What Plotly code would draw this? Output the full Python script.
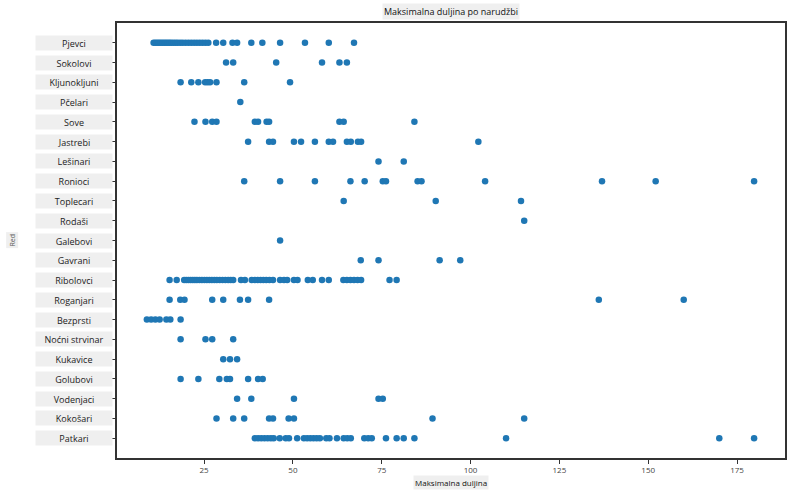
import plotly.graph_objects as go

# order names, top to bottom
redovi = ['Pjevci', 'Sokolovi', 'Kljunokljuni', 'Pčelari', 'Sove', 'Jastrebi',
          'Lešinari', 'Ronioci', 'Toplecari', 'Rodaši', 'Galebovi', 'Gavrani',
          'Ribolovci', 'Roganjari', 'Bezprsti', 'Noćni strvinar', 'Kukavice',
          'Golubovi', 'Vodenjaci', 'Kokošari', 'Patkari']

# max lengths, one list per order
pjevci = [10.8, 11.3, 11.8, 12.3, 12.8, 13.3, 13.8, 14.3, 14.8, 15.3, 15.8, 16.4, 17.0,
          17.6, 18.3, 19.0, 19.8, 20.6, 21.4, 22.2, 23.0, 23.8, 24.6, 25.4, 26.2,
          28.4, 30.4, 33.0, 34.3, 38.3, 41.4, 46.4, 53.4, 60.1, 67.2]
sokolovi = [31.2, 33.2, 45.3, 58.2, 63.1, 65.2]
kljunokljuni = [18.4, 21.4, 23.4, 25.3, 26.0, 26.7, 28.5, 36.3, 49.2]
pcelari = [35.2]
sove = [22.3, 25.4, 27.3, 28.5, 39.3, 40.2, 42.6, 43.3, 63.1, 64.3, 84.2]
jastrebi = [37.4, 43.3, 44.4, 50.3, 52.3, 56.2, 60.1, 61.3, 65.2, 66.3, 68.3, 69.2, 102.2]
lesinari = [74.1, 81.2]
ronioci = [36.3, 46.4, 56.2, 66.2, 70.2, 75.3, 76.2, 85.1, 86.2, 104.1, 137.0, 152.1, 179.8]
toplecari = [64.3, 90.2, 114.2]
rodasi = [115.1]
galebovi = [46.4]
gavrani = [69.1, 74.1, 91.3, 97.1]
ribolovci = [15.3, 17.3, 19.4, 20.0, 20.6, 21.2, 21.8, 22.4, 23.0, 23.7, 24.4, 25.1,
             25.8, 26.5, 27.2, 27.9, 28.6, 29.4, 30.2, 31.0, 31.8, 32.5, 33.2, 35.4,
             36.5, 38.4, 39.3, 40.1, 40.9, 41.7, 42.5, 43.4, 44.4, 46.4, 47.5, 48.4,
             50.3, 51.3, 54.2, 55.6, 58.2, 60.1, 64.2, 65.2, 66.2, 67.2, 68.2, 69.2,
             77.2, 79.2]
roganjari = [15.3, 18.3, 19.5, 27.3, 30.4, 35.1, 37.4, 43.3, 136.1, 160.0]
bezprsti = [8.9, 10.1, 11.3, 12.5, 14.4, 15.5, 18.4]
nocni_strvinar = [18.4, 25.4, 27.3, 33.2]
kukavice = [30.4, 32.3, 34.3]
golubovi = [18.4, 23.4, 29.3, 31.4, 32.3, 37.4, 40.2, 41.5]
vodenjaci = [34.3, 38.3, 50.3, 74.1, 75.3]
kokosari = [28.5, 33.2, 36.3, 43.3, 44.4, 48.8, 50.3, 89.3, 115.1]
patkari = [39.3, 40.2, 41.1, 42.0, 42.9, 43.8, 44.6, 46.3, 48.0, 48.9, 51.2, 53.1,
           54.0, 54.9, 55.8, 56.7, 57.6, 59.4, 60.3, 62.4, 64.3, 65.3, 66.3, 70.1,
           71.2, 72.2, 76.2, 79.2, 81.2, 84.2, 110.0, 170.0, 179.8]

duljine = [pjevci, sokolovi, kljunokljuni, pcelari, sove, jastrebi, lesinari, ronioci,
           toplecari, rodasi, galebovi, gavrani, ribolovci, roganjari, bezprsti,
           nocni_strvinar, kukavice, golubovi, vodenjaci, kokosari, patkari]

x_tocke = []
y_tocke = []
for red, vrijednosti in zip(redovi, duljine):
    x_tocke += vrijednosti
    y_tocke += [red] * len(vrijednosti)

FONT = 'Open Sans'
SIVA = '#efefef'

fig = go.Figure(go.Scatter(
    x=x_tocke, y=y_tocke, mode='markers',
    marker=dict(color='#1f77b4', size=6.5, line=dict(width=0)),
    showlegend=False,
))

# y labels drawn as boxed annotations
annotations = []
for red in redovi:
    annotations.append(dict(
        text=red, x=-0.006, xref='paper', xanchor='right',
        y=red, yref='y', yanchor='middle', showarrow=False,
        bgcolor=SIVA, width=74, height=12, align='center',
        font=dict(family=FONT, size=9, color='#222'),
    ))

annotations.append(dict(
    text='Maksimalna duljina po narudžbi', x=0.5, xref='paper', xanchor='center',
    y=1.0, yref='paper', yanchor='bottom', yshift=3, showarrow=False,
    bgcolor=SIVA, font=dict(family=FONT, size=9, color='#111'),
))
annotations.append(dict(
    text='Maksimalna duljina', x=0.5, xref='paper', xanchor='center',
    y=0, yref='paper', yanchor='top', yshift=-17, showarrow=False,
    bgcolor=SIVA, font=dict(family=FONT, size=8, color='#111'),
))
annotations.append(dict(
    text='Red', x=-0.157, xref='paper', xanchor='center',
    y=0.5, yref='paper', yanchor='middle', textangle=-90, showarrow=False,
    bgcolor=SIVA, font=dict(family=FONT, size=7, color='#555'),
))

fig.update_layout(
    width=793, height=496,
    margin=dict(l=117, r=6, t=23, b=38),
    paper_bgcolor='white', plot_bgcolor='white',
    annotations=annotations,
    font=dict(family=FONT),
)

fig.update_xaxes(
    range=[0.5, 188.5], tickvals=[25, 50, 75, 100, 125, 150, 175],
    showgrid=False, zeroline=False,
    showline=True, linecolor='#333', linewidth=1.5, mirror=True,
    ticks='outside', ticklen=4, tickcolor='#333',
    tickfont=dict(family=FONT, size=8, color='#444'),
)
fig.update_yaxes(
    type='category', categoryorder='array', categoryarray=redovi,
    range=[21, -1], showticklabels=False,
    showgrid=False, zeroline=False,
    showline=True, linecolor='#333', linewidth=1.5, mirror=True,
    ticks='outside', ticklen=4, tickcolor='#333',
)

# drop the default page margin so the figure fills the window exactly
fig.write_html('out.html', config={'displayModeBar': False},
               post_script="document.body.style.margin = '0';")
